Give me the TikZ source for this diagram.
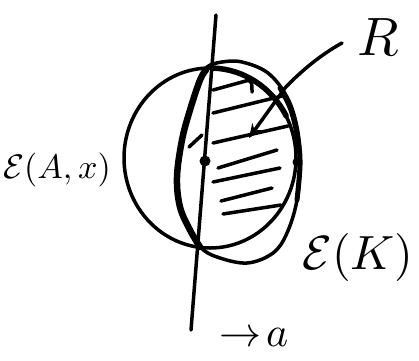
\documentclass[tikz,border=0pt]{standalone}
\usetikzlibrary{arrows.meta}
\begin{document}
\begin{tikzpicture}[x=1pt,y=-1pt,line cap=round,line join=round,
  pen/.style={line width=3.5pt},
  heavy/.style={line width=6.5pt},
  hatch/.style={line width=3.5pt},
  lbl/.style={inner sep=0pt}]
\useasboundingbox (0,0) rectangle (419,360);
% circle E(A,x)
\draw[pen] (210,158) ellipse [x radius=86, y radius=90];
% E(K)
\draw[pen] plot[smooth cycle,tension=0.6] coordinates {
 (207,67) (222,62) (242,62) (268,73) (287,97) (297,127) (300,160)
 (297,200) (287,233) (273,253) (247,263) (217,257) (200,247)
 (190,230) (180,207) (177,177) (182,140) (190,110) (200,80)};
% thick left arc of E(K)
\draw[heavy] plot[smooth,tension=0.6] coordinates {
 (206,70) (200,80) (190,110) (182,140) (177,177) (180,207) (190,230) (200,247)};
% thick right arc of E(K)
\draw[line width=5pt] plot[smooth,tension=0.6] coordinates {
 (280,88) (291,110) (298,140) (300,165) (297,200)};
% thick lower arc of circle
\draw[line width=5.5pt] (210,158) ++(-88:90) arc[start angle=-88,end angle=-28,x radius=86,y radius=90];
% the line
\coordinate (ltop) at (216,15);
\coordinate (lbot) at (191,330);
\draw[pen] (ltop) -- (lbot);
% dots
\fill (205,161) circle (5.5);
\fill (297,162) circle (4.5);
% small tick
\draw[pen] (189,147) -- (202,135);
% hatching
\draw[hatch] (213,90) -- (253,79);
\draw[hatch] (213,113) -- (282,96);
\draw[hatch] (213,143) -- (288,126);
\draw[hatch] (218,168) -- (277,150);
\draw[hatch] (213,182) -- (280,168);
\draw[hatch] (221,201) -- (272,188);
\draw[hatch] (223,214) -- (281,205);
\draw[hatch] (247,80) .. controls (252,82) .. (252,92);
% labels
\node[lbl,scale=5.4] (R) at (378,37) {$R$};
\node[lbl,scale=3.4] (EA) at (57,170) {$\mathcal{E}(A,x)$};
\node[lbl,scale=4.8] (EK) at (358,257) {$\mathcal{E}(K)$};
\node[lbl,scale=4.2] (dir) at (254,337) {$\rightarrow\! a$};
% arrow from R
\coordinate (rs) at (342,43);
\coordinate (rt) at (249,138);
\draw[pen,-{Stealth[length=14pt,width=12pt]}] (rs) .. controls (322,54) and (302,70) .. (285,88) -- (rt);
\end{tikzpicture}
\end{document}
